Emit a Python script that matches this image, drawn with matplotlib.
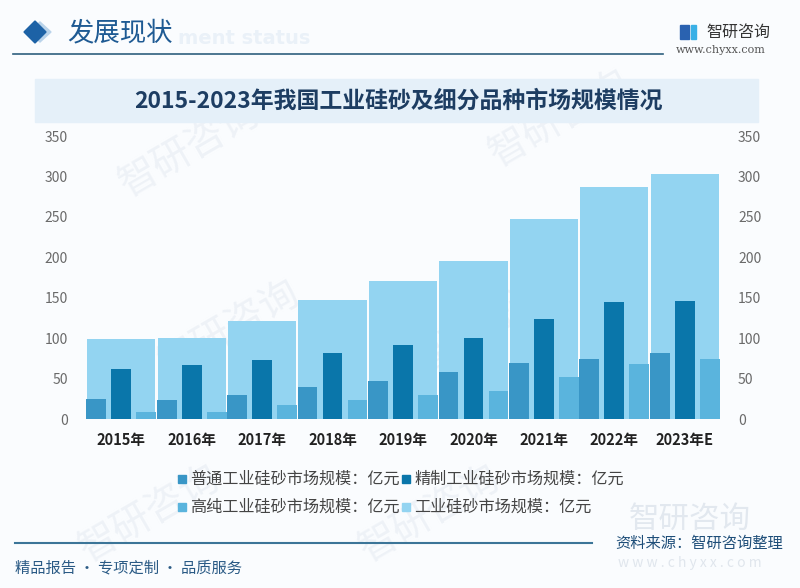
import matplotlib
matplotlib.use("Agg")
import matplotlib.pyplot as plt
from matplotlib.patches import Rectangle, Polygon
import numpy as np

plt.rcParams['font.family'] = ['Noto Sans CJK SC', 'DejaVu Sans']

# ---- data (亿元) ----
years = ['2015年', '2016年', '2017年', '2018年', '2019年', '2020年', '2021年', '2022年', '2023年E']
total = [99, 100, 121, 147, 171, 196, 248, 287, 303]
putong = [25, 24, 30, 40, 47, 58, 70, 74, 82]
jingzhi = [62, 67, 73, 82, 92, 100, 124, 145, 146]
gaochun = [9, 9, 18, 24, 30, 35, 52, 68, 74]

series_labels = ['普通工业硅砂市场规模：亿元', '精制工业硅砂市场规模：亿元',
                 '高纯工业硅砂市场规模：亿元', '工业硅砂市场规模：亿元']
c_total = '#93d4f1'
c_putong = '#3996c6'
c_jingzhi = '#0a76aa'
c_gaochun = '#5ab4dd'

W, H = 800, 588
fig = plt.figure(figsize=(8, 5.88), dpi=100, facecolor='#fafcfe')


def fx(px):
    return px / W


def fy(py):
    return 1 - py / H


# faint watermarks (behind the chart)
for (wx, wy) in [(190, 150), (560, 120), (230, 330), (480, 330), (150, 515), (430, 515)]:
    fig.text(fx(wx), fy(wy), '智研咨询', fontsize=28, color='#eef2f7', rotation=30,
             ha='center', va='center', zorder=-1)

# ---- header ----
fig.patches.append(Polygon([[fx(40), fy(22)], [fx(51), fy(32)], [fx(40), fy(42)], [fx(29), fy(32)]],
                           closed=True, transform=fig.transFigure, color='#b9d3ea', zorder=1))
fig.patches.append(Polygon([[fx(35), fy(21)], [fx(46), fy(32)], [fx(35), fy(43)], [fx(24), fy(32)]],
                           closed=True, transform=fig.transFigure, color='#1d62a6', zorder=2))
fig.text(fx(178), fy(39), 'ment status', fontsize=14, fontweight='bold', color='#eaf1f8',
         ha='left', va='center', family='DejaVu Sans')
fig.text(fx(67), fy(33), '发展现状', fontsize=19, color='#1e5a93', ha='left', va='center')
fig.add_artist(plt.Line2D([fx(13), fx(663)], [fy(54), fy(54)], transform=fig.transFigure,
                          color='#2e5f7e', lw=1.2))

# logo
fig.patches.append(Rectangle((fx(680), fy(39)), fx(9), 14 / H, transform=fig.transFigure,
                             color='#2a62b0', zorder=2))
fig.patches.append(Rectangle((fx(691), fy(39)), fx(5), 14 / H, transform=fig.transFigure,
                             color='#39b0e6', zorder=2))
fig.text(fx(706), fy(32), '智研咨询', fontsize=11.5, color='#333333', ha='left', va='center')
fig.text(fx(676), fy(50), 'www.chyxx.com', fontsize=8, color='#555555', ha='left', va='center',
         family='DejaVu Serif')

# ---- title band ----
fig.patches.append(Rectangle((fx(35), fy(122)), fx(758 - 35), 43 / H, transform=fig.transFigure,
                             color='#e5f0f9', zorder=1))
fig.text(fx(398), fy(101), '2015-2023年我国工业硅砂及细分品种市场规模情况', fontsize=16.5,
         fontweight='bold', color='#1d3d62', ha='center', va='center')

# ---- chart ----
ax = fig.add_axes([fx(86), fy(419.3), fx(720 - 86), (419.3 - 136) / H])
ax.set_facecolor('none')
x = np.arange(len(years))
ax.bar(x, total, width=0.97, color=c_total, zorder=1)
ax.bar(x - 0.355, putong, width=0.28, color=c_putong, zorder=2)
ax.bar(x, jingzhi, width=0.28, color=c_jingzhi, zorder=2)
ax.bar(x + 0.355, gaochun, width=0.28, color=c_gaochun, zorder=2)

ax.set_xlim(-0.5, len(years) - 0.5)
ax.set_ylim(0, 350)
ax.set_yticks(np.arange(0, 351, 50))
ax.set_xticks(x)
ax.set_xticklabels(years, fontsize=10.5, fontweight='bold', color='#222222')
ax.tick_params(axis='x', length=0, pad=9)
ax.tick_params(axis='y', length=0, pad=13, labelsize=10, labelcolor='#6a6a6a')
for s in ax.spines.values():
    s.set_visible(False)

ax2 = ax.twinx()
ax2.set_ylim(0, 350)
ax2.set_yticks(np.arange(0, 351, 50))
ax2.tick_params(axis='y', length=0, pad=13, labelsize=10, labelcolor='#6a6a6a')
for s in ax2.spines.values():
    s.set_visible(False)

# ---- legend ----
legend_items = [(182, 479, c_putong, series_labels[0]),
                (406, 479, c_jingzhi, series_labels[1]),
                (182, 507, c_gaochun, series_labels[2]),
                (406, 507, c_total, series_labels[3])]
for lx, ly, col, lab in legend_items:
    fig.patches.append(Rectangle((fx(lx - 4), fy(ly + 4)), fx(8), 8 / H, transform=fig.transFigure,
                                 color=col, zorder=2))
    fig.text(fx(lx + 8), fy(ly), lab, fontsize=11.6, color='#444444', ha='left', va='center')

# ---- footer ----
fig.text(fx(690), fy(519), '智研咨询', fontsize=22, color='#e2e8ef', ha='center', va='center')
fig.text(fx(690), fy(563), 'w w w . c h y x x . c o m', fontsize=10, color='#e0e6ed',
         ha='center', va='center')
fig.add_artist(plt.Line2D([fx(15), fx(592)], [fy(543), fy(543)], transform=fig.transFigure,
                          color='#3c7598', lw=1.5))
fig.text(fx(783), fy(543), '资料来源：智研咨询整理', fontsize=11, color='#1e4e79',
         ha='right', va='center')
fig.text(fx(15), fy(568), '精品报告 · 专项定制 · 品质服务', fontsize=11, color='#2a5a85',
         ha='left', va='center')

fig.savefig('out.png', dpi=100, facecolor=fig.get_facecolor())
